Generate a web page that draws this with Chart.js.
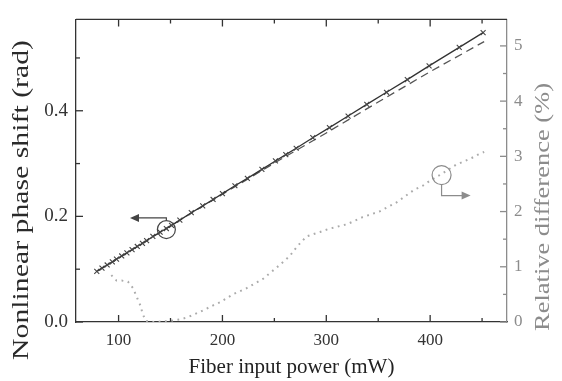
<!DOCTYPE html>
<html>
<head>
<meta charset="utf-8">
<script src="https://cdn.jsdelivr.net/npm/chart.js@4.4.0/dist/chart.umd.min.js"></script>
<style>
  html, body { margin: 0; padding: 0; background: #fff; }
  #wrap { width: 562px; height: 381px; }
</style>
</head>
<body>
<div id="wrap"><canvas id="chart"></canvas></div>
<script>
    "use strict";

    // measured phase shift (crosses + solid line)
    var powerMeasured = [79, 84, 89, 94, 98, 103, 108, 113, 118, 123, 127, 133, 140, 146, 151, 159, 170, 181, 191, 200, 212, 224, 238, 251, 261, 271, 287, 303, 321, 339, 358, 378, 399, 428, 451];
    var phaseMeasured = [0.096, 0.102, 0.108, 0.114, 0.119, 0.125, 0.131, 0.137, 0.143, 0.149, 0.154, 0.162, 0.170, 0.177, 0.183, 0.193, 0.207, 0.220, 0.232, 0.243, 0.258, 0.272, 0.289, 0.305, 0.317, 0.329, 0.349, 0.368, 0.390, 0.412, 0.435, 0.459, 0.485, 0.520, 0.548];

    // calculated phase shift (dashed)
    var powerCalc = [80, 150, 200, 250, 300, 350, 400, 452];
    var phaseCalc = [0.0965, 0.182, 0.242, 0.301, 0.358, 0.4165, 0.474, 0.531];

    // relative difference in % (dotted, right axis)
    var powerDiff = [93, 98, 103, 109, 114, 118, 121, 123, 126, 135, 150, 160, 167, 178, 191, 198, 210, 223, 239, 255, 265, 272, 281, 294, 303, 320, 335, 351, 368, 385, 393, 400, 411, 425, 433, 440, 446, 452];
    var relDiff = [0.85, 0.75, 0.75, 0.73, 0.61, 0.43, 0.30, 0.16, 0.02, 0, 0.02, 0.05, 0.09, 0.18, 0.30, 0.36, 0.50, 0.61, 0.78, 1.03, 1.20, 1.37, 1.55, 1.63, 1.69, 1.77, 1.90, 2.00, 2.17, 2.40, 2.47, 2.56, 2.68, 2.85, 2.91, 2.97, 3.03, 3.08];

    // ticks
    var xTicks = [100, 200, 300, 400];
    var xMinor = [150, 250, 350, 450];
    var phaseTicks = [0, 0.2, 0.4];
    var phaseLabels = ["0.0", "0.2", "0.4"];
    var phaseMinor = [0.1, 0.3, 0.5];
    var diffTicks = [0, 1, 2, 3, 4, 5];
    var diffMinor = [0.5, 1.5, 2.5, 3.5, 4.5];

    var SERIF = '"Liberation Serif", "DejaVu Serif", serif';
    var DARK = "#333";
    var GREY = "#8c8c8c";

    function zip(xs, ys) {
        return xs.map(function (x, i) { return { x: x, y: ys[i] }; });
    }

    // inward tick marks, top frame line, axis titles and the two arrow markers
    var decorations = {
        id: "decorations",
        afterDatasetsDraw: function (chart) {
            var ctx = chart.ctx;
            var a = chart.chartArea;
            var sx = chart.scales.x, sy = chart.scales.y, sy2 = chart.scales.y2;

            ctx.save();
            ctx.lineWidth = 1.3;

            // top frame
            ctx.strokeStyle = DARK;
            ctx.beginPath();
            ctx.moveTo(a.left, a.top);
            ctx.lineTo(a.right, a.top);
            ctx.stroke();

            function xTick(v, len) {
                var px = sx.getPixelForValue(v);
                ctx.beginPath();
                ctx.moveTo(px, a.bottom); ctx.lineTo(px, a.bottom - len);
                ctx.moveTo(px, a.top); ctx.lineTo(px, a.top + len);
                ctx.stroke();
            }
            xTicks.forEach(function (v) { xTick(v, 7); });
            xMinor.forEach(function (v) { xTick(v, 4); });

            phaseTicks.forEach(function (v) {
                var py = sy.getPixelForValue(v);
                ctx.beginPath(); ctx.moveTo(a.left, py); ctx.lineTo(a.left + 7, py); ctx.stroke();
            });
            phaseMinor.forEach(function (v) {
                var py = sy.getPixelForValue(v);
                ctx.beginPath(); ctx.moveTo(a.left, py); ctx.lineTo(a.left + 4, py); ctx.stroke();
            });

            ctx.strokeStyle = GREY;
            diffTicks.forEach(function (v) {
                var py = sy2.getPixelForValue(v);
                ctx.beginPath(); ctx.moveTo(a.right, py); ctx.lineTo(a.right - 7, py); ctx.stroke();
            });
            diffMinor.forEach(function (v) {
                var py = sy2.getPixelForValue(v);
                ctx.beginPath(); ctx.moveTo(a.right, py); ctx.lineTo(a.right - 4, py); ctx.stroke();
            });

            // left marker: circle on the measured line, arrow pointing to the left axis
            ctx.strokeStyle = "#444";
            ctx.fillStyle = "#444";
            ctx.lineWidth = 1.2;
            var cx = sx.getPixelForValue(146), cy = sy.getPixelForValue(0.175);
            ctx.beginPath(); ctx.arc(cx, cy, 9, 0, Math.PI * 2); ctx.stroke();
            var ay = sy.getPixelForValue(0.197);
            var tipX = sx.getPixelForValue(111);
            ctx.beginPath();
            ctx.moveTo(cx, cy - 9); ctx.lineTo(cx, ay); ctx.lineTo(tipX + 8, ay);
            ctx.stroke();
            ctx.beginPath();
            ctx.moveTo(tipX, ay); ctx.lineTo(tipX + 9, ay - 4); ctx.lineTo(tipX + 9, ay + 4);
            ctx.closePath(); ctx.fill();

            // right marker: circle on the dotted curve, arrow pointing to the right axis
            ctx.strokeStyle = GREY;
            ctx.fillStyle = GREY;
            var rx = sx.getPixelForValue(411), ry = sy2.getPixelForValue(2.66);
            ctx.beginPath(); ctx.arc(rx, ry, 9.5, 0, Math.PI * 2); ctx.stroke();
            var by = sy2.getPixelForValue(2.29);
            var tip2 = sx.getPixelForValue(439);
            ctx.beginPath();
            ctx.moveTo(rx, ry + 9.5); ctx.lineTo(rx, by); ctx.lineTo(tip2 - 8, by);
            ctx.stroke();
            ctx.beginPath();
            ctx.moveTo(tip2, by); ctx.lineTo(tip2 - 9, by - 4); ctx.lineTo(tip2 - 9, by + 4);
            ctx.closePath(); ctx.fill();

            // vertical axis titles
            ctx.textAlign = "center";
            ctx.textBaseline = "middle";
            function vTitle(text, x, y, size, length, color) {
                ctx.save();
                ctx.font = size + "px " + SERIF;
                ctx.fillStyle = color;
                ctx.translate(x, y);
                ctx.rotate(-Math.PI / 2);
                var w = ctx.measureText(text).width;
                ctx.scale(length / w, 1);
                ctx.fillText(text, 0, 0);
                ctx.restore();
            }
            vTitle("Nonlinear phase shift (rad)", 22, 200, 23, 320, "#2a2a2a");
            vTitle("Relative difference (%)", 543, 207, 22, 248, GREY);

            ctx.restore();
        }
    };

    var ctx = document.getElementById("chart").getContext("2d");
    var myChart = new Chart(ctx, {
        type: "line",
        data: {
            datasets: [{
                    label: "Measured",
                    data: zip(powerMeasured, phaseMeasured),
                    yAxisID: "y",
                    borderColor: DARK,
                    borderWidth: 1.3,
                    pointStyle: "crossRot",
                    pointRadius: 3.5,
                    pointBorderColor: "#444",
                    pointBorderWidth: 1.1,
                    tension: 0
                },
                {
                    label: "Calculated",
                    data: zip(powerCalc, phaseCalc),
                    yAxisID: "y",
                    borderColor: "#555",
                    borderWidth: 1.3,
                    borderDash: [8, 5],
                    pointRadius: 0,
                    tension: 0
                },
                {
                    label: "Relative difference",
                    data: zip(powerDiff, relDiff),
                    yAxisID: "y2",
                    borderColor: "#ababab",
                    borderWidth: 2,
                    borderDash: [1.8, 4.5],
                    pointRadius: 0,
                    tension: 0
                }
            ]
        },
        options: {
            responsive: true,
            maintainAspectRatio: false,
            animation: false,
            layout: { padding: { top: 7, left: 0, right: 0, bottom: 0 } },
            plugins: {
                legend: { display: false },
                tooltip: { enabled: false }
            },
            scales: {
                x: {
                    type: "linear",
                    position: "bottom",
                    min: 59,
                    max: 474,
                    afterBuildTicks: function (scale) {
                        scale.ticks = xTicks.map(function (v) { return { value: v }; });
                    },
                    afterFit: function (scale) { scale.height = 59; },
                    grid: { display: false, drawTicks: false },
                    border: { display: true, color: DARK, width: 1.3 },
                    ticks: {
                        padding: 8,
                        color: DARK,
                        font: { family: SERIF, size: 17 },
                        maxRotation: 0
                    },
                    title: {
                        display: true,
                        text: "Fiber input power (mW)",
                        color: "#222",
                        font: { family: SERIF, size: 21 },
                        padding: { top: 0, bottom: 1 }
                    }
                },
                y: {
                    position: "left",
                    min: 0,
                    max: 0.573,
                    afterBuildTicks: function (scale) {
                        scale.ticks = phaseTicks.map(function (v) { return { value: v }; });
                    },
                    afterFit: function (scale) { scale.width = 76; },
                    grid: { display: false, drawTicks: false },
                    border: { display: true, color: DARK, width: 1.3 },
                    ticks: {
                        padding: 8,
                        color: DARK,
                        font: { family: SERIF, size: 19 },
                        callback: function (v) {
                            var i = phaseTicks.indexOf(v);
                            return i >= 0 ? phaseLabels[i] : "";
                        }
                    }
                },
                y2: {
                    position: "right",
                    min: 0,
                    max: 5.48,
                    afterBuildTicks: function (scale) {
                        scale.ticks = diffTicks.map(function (v) { return { value: v }; });
                    },
                    afterFit: function (scale) { scale.width = 55; },
                    grid: { display: false, drawTicks: false },
                    border: { display: true, color: GREY, width: 1.3 },
                    ticks: {
                        padding: 7,
                        color: GREY,
                        font: { family: SERIF, size: 17 }
                    }
                }
            }
        },
        plugins: [decorations]
    });
</script>
</body>
</html>
